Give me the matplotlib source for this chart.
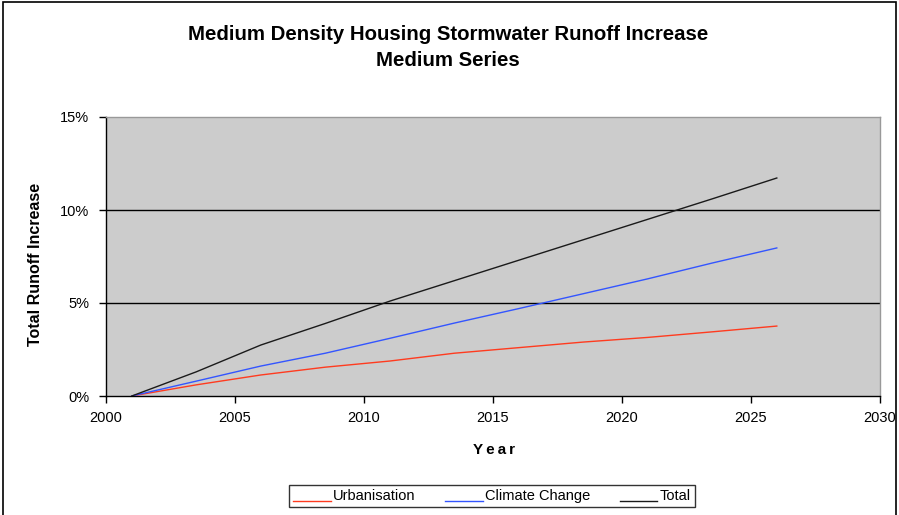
import matplotlib
matplotlib.use("Agg")
import matplotlib.pyplot as plt
from matplotlib.patches import Rectangle
from matplotlib.ticker import FuncFormatter
from matplotlib.legend_handler import HandlerLine2D

plt.rcParams['font.family'] = ['Liberation Sans', 'DejaVu Sans']

years = [2001, 2003.5, 2006, 2008.5, 2011, 2013.5, 2016, 2018.5, 2021, 2023.5, 2026]
urbanisation = [0, 0.6, 1.13, 1.55, 1.88, 2.3, 2.6, 2.9, 3.15, 3.45, 3.76]
climate_change = [0, 0.8, 1.61, 2.3, 3.1, 3.92, 4.7, 5.5, 6.3, 7.15, 7.96]
total = [0, 1.3, 2.74, 3.9, 5.1, 6.2, 7.3, 8.4, 9.5, 10.6, 11.72]

x_ticks = [2000, 2005, 2010, 2015, 2020, 2025, 2030]
y_ticks = [0, 5, 10, 15]


class LowLine(HandlerLine2D):
    def create_artists(self, legend, orig_handle, xdescent, ydescent, width, height, fontsize, trans):
        arts = super().create_artists(legend, orig_handle, xdescent, ydescent, width, height, fontsize, trans)
        for a in arts:
            xd = a.get_xdata()
            a.set_ydata([-0.5] * len(xd))
        return arts


fig = plt.figure(figsize=(8.99, 5.15), dpi=100)
fig.patch.set_facecolor('white')
fig.patches.append(Rectangle((3/899, -0.02), 893/899, 1 - 2/515 + 0.02, transform=fig.transFigure,
                             fill=False, edgecolor='black', linewidth=1.2, zorder=0))

ax = fig.add_axes([106/899, 1 - 396/515, (880 - 106)/899, (396 - 117)/515])
ax.set_facecolor('#CCCCCC')

ax.plot(years, urbanisation, color='#FF3B1F', lw=1.0, label='Urbanisation', zorder=3)
ax.plot(years, climate_change, color='#3355FF', lw=1.0, label='Climate Change', zorder=3)
ax.plot(years, total, color='#1A1A1A', lw=1.0, label='Total', zorder=3)

ax.set_xlim(2000, 2030)
ax.set_ylim(0, 15)
ax.set_xticks(x_ticks)
ax.set_yticks(y_ticks)
ax.yaxis.set_major_formatter(FuncFormatter(lambda v, p: f"{v:.0f}%"))
for y in [5, 10]:
    ax.axhline(y, color='black', lw=1.0, zorder=2)

for s in ['top', 'right']:
    ax.spines[s].set_color('#999999')
    ax.spines[s].set_linewidth(1.0)
for s in ['left', 'bottom']:
    ax.spines[s].set_color('black')
    ax.spines[s].set_linewidth(1.0)
ax.tick_params(axis='both', direction='out', length=5, width=1, labelsize=10.5, colors='black')
ax.tick_params(axis='y', pad=7)
ax.tick_params(axis='x', pad=6)

ax.set_xlabel('Y\u2009e\u2009a\u2009r', fontsize=11, fontweight='bold')
ax.xaxis.set_label_coords((494 - 106) / 774, (396 - 443) / 279)
ax.set_ylabel('Total Runoff Increase', fontsize=11.5, fontweight='bold')
ax.yaxis.set_label_coords((43 - 106) / 774, (396 - 264) / 279)

fig.text(448/899, 1 - 47.5/515, 'Medium Density Housing Stormwater Runoff Increase\nMedium Series',
         ha='center', va='center', fontsize=14.7, fontweight='bold', linespacing=1.5)

leg = fig.legend(loc='center', bbox_to_anchor=(492/899, 1 - 496/515), ncol=3, frameon=True,
                 fancybox=False, edgecolor='black', fontsize=10.5, handlelength=2.6,
                 columnspacing=2.0, borderpad=0.3, handletextpad=0.15,
                 handler_map={matplotlib.lines.Line2D: LowLine()})
leg.get_frame().set_linewidth(1.0)

fig.savefig('out.png', dpi=100)
